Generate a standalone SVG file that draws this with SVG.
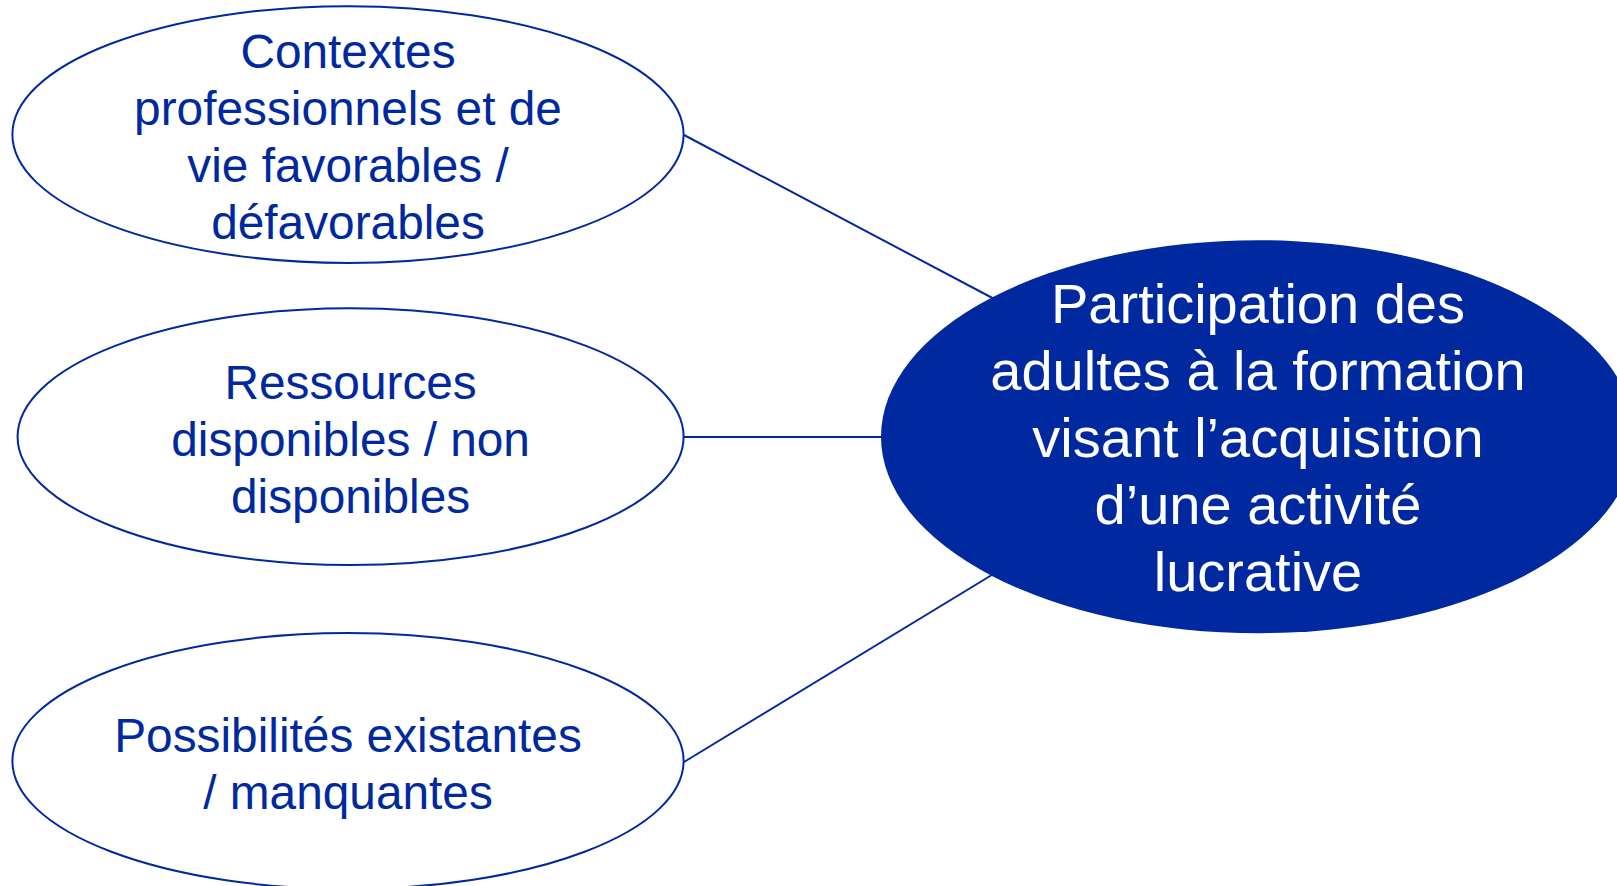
<svg xmlns="http://www.w3.org/2000/svg" width="1617" height="886" viewBox="0 0 1617 886">
<style>
.outer{fill:#fff;stroke:#0029A0;stroke-width:2}
.t{font-family:"Liberation Sans",Arial,sans-serif;font-size:47.8px;fill:#0029A0;text-anchor:middle}
.tw{font-family:"Liberation Sans",Arial,sans-serif;font-size:56px;fill:#fff;text-anchor:middle}
.c{stroke:#0029A0;stroke-width:2;fill:none}
</style>
<rect width="1617" height="886" fill="#fff"/>
<g id="connectors">
<line class="c" x1="684" y1="135" x2="1000" y2="302"/>
<line class="c" x1="684" y1="437" x2="890" y2="437"/>
<line class="c" x1="684" y1="762" x2="1000" y2="570"/>
</g>
<g id="n1">
<ellipse class="outer" cx="348" cy="134.6" rx="335.6" ry="128.4"/>
<text class="t" x="348" y="67.5">Contextes</text>
<text class="t" x="348" y="124.5">professionnels et de</text>
<text class="t" x="348" y="181.5">vie favorables /</text>
<text class="t" x="348" y="238.5">défavorables</text>
</g>
<g id="n2">
<ellipse class="outer" cx="350.6" cy="436.7" rx="333" ry="128.4"/>
<text class="t" x="350.6" y="398.5">Ressources</text>
<text class="t" x="350.6" y="455.5">disponibles / non</text>
<text class="t" x="350.6" y="512.5">disponibles</text>
</g>
<g id="n3">
<ellipse class="outer" cx="348" cy="761" rx="335.6" ry="128"/>
<text class="t" x="348" y="752">Possibilités existantes</text>
<text class="t" x="348" y="809">/ manquantes</text>
</g>
<g id="center">
<ellipse cx="1258" cy="436.7" rx="377" ry="196.5" fill="#0029A0"/>
<text class="tw" x="1258" y="323">Participation des</text>
<text class="tw" x="1258" y="390">adultes à la formation</text>
<text class="tw" x="1258" y="457">visant l’acquisition</text>
<text class="tw" x="1258" y="524">d’une activité</text>
<text class="tw" x="1258" y="591">lucrative</text>
</g>
</svg>
